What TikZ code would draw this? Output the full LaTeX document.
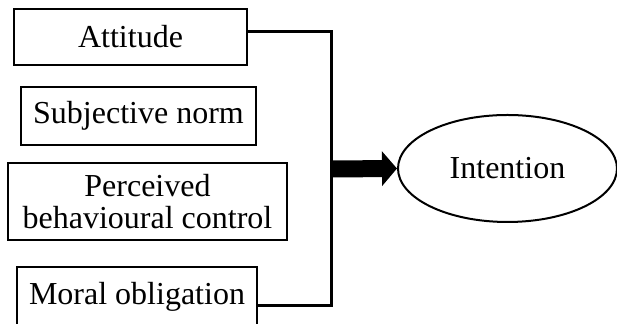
\documentclass[tikz,border=0pt]{standalone}
\usepackage{fontspec}
\setmainfont{Liberation Serif}
\usetikzlibrary{shapes.geometric,arrows.meta}
\tikzstyle{factor}=[draw=black, shape=rectangle, line width=1pt, align=center, inner sep=0pt, font=\fontsize{16}{16}\selectfont]
\tikzstyle{outcome}=[draw=black, shape=ellipse, line width=1pt, inner sep=0pt, font=\fontsize{16}{16}\selectfont]
\tikzstyle{edge}=[line width=1.5pt]
\tikzstyle{push}=[line width=8.5pt, -{Triangle[length=7.5pt,width=17pt]}]

\begin{document}
\begin{tikzpicture}[x=0.5pt, y=-0.5pt]
            \useasboundingbox (0,0) rectangle (617,324);
            \node[factor, minimum width=116.5pt, minimum height=28pt] (att) at (130.5,37) {Attitude};
            \node[factor, minimum width=117.5pt, minimum height=29pt] (norm) at (138.5,116) {Subjective norm};
            \node[factor, minimum width=139.5pt, minimum height=38.5pt] (pbc) at (147.5,201.5) {Perceived\\behavioural control};
            \node[factor, minimum width=120pt, minimum height=30pt] (moral) at (137,297) {Moral obligation};
            \node[outcome, minimum width=109.5pt, minimum height=53.5pt] (int) at (507.5,168.5) {Intention};
            \coordinate (top) at (331,32);
            \coordinate (bus) at (331,169);
            \draw[edge] ([yshift=2.5pt]att.east) -- (top) |- ([yshift=-4.5pt]moral.east);
            \draw[push] (bus) -- (int.west);
	    \end{tikzpicture}
\end{document}
